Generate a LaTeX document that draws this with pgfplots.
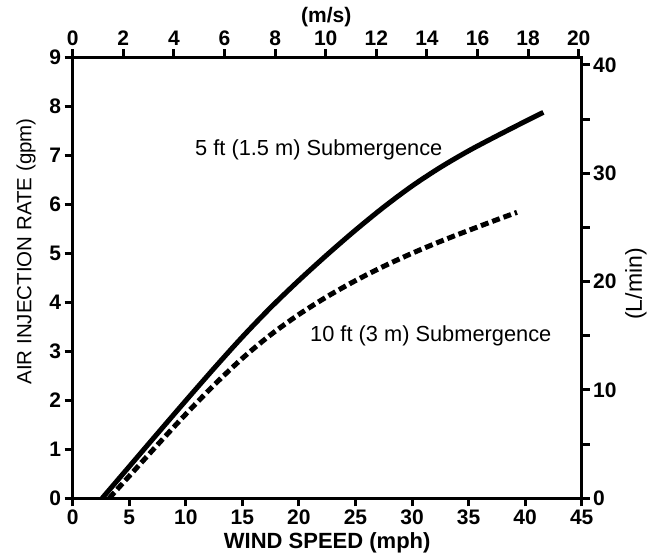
\documentclass[border=0pt]{standalone}
\usepackage{fontspec}
\setmainfont{Liberation Sans}
\usepackage{pgfplots}
\pgfplotsset{compat=1.18}
\begin{document}
\begin{tikzpicture}
\pgfplotsset{
  mybase/.style={
    scale only axis, width=509bp, height=441bp,
    axis line style={line width=3bp, black},
    tick style={line width=3bp, black},
    major tick length=8bp,
    tick align=outside,
    minor tick num=0,
    /pgf/number format/assume math mode=true,
    ticklabel style={font=\fontsize{21bp}{25bp}\selectfont\bfseries},
    label style={inner sep=0pt},
  }
}
\begin{axis}[mybase, name=main,
  xmin=0, xmax=45, ymin=0, ymax=9,
  xtick={0,5,...,45}, ytick={0,1,...,9},
  xtick pos=bottom, ytick pos=left,
  xlabel={WIND SPEED (mph)},
  ylabel={AIR INJECTION RATE (gpm)},
  xlabel style={font=\fontsize{22bp}{26bp}\selectfont\bfseries, at={(axis description cs:0.5,0)}, anchor=base, yshift=-49.7bp},
  ylabel style={font=\fontsize{20.5bp}{25bp}\selectfont, at={(axis description cs:0,0.56)}, anchor=center, yshift=46.7bp},
  clip=false,
]
\addplot[line width=5bp, black, smooth] coordinates {
(2.6,0) (5,0.648) (7.5,1.323) (10,1.993) (12.5,2.653) (15,3.293) (17.5,3.893)
(20,4.448) (22.5,4.973) (25,5.473) (27.5,5.943) (30,6.373) (32.5,6.753)
(35,7.091) (37.5,7.396) (40,7.691) (41.61,7.876)
};
\addplot[line width=5bp, black, smooth, dash pattern=on 8bp off 4bp] coordinates {
(3.22,0) (5,0.454) (7.5,1.092) (10,1.717) (12.5,2.312) (15,2.857) (17.5,3.337)
(20,3.752) (22.5,4.117) (25,4.442) (27.5,4.735) (30,5.0) (32.5,5.242)
(35,5.467) (37.5,5.685) (39.28,5.836)
};
\node[anchor=base west, inner sep=0pt, font=\fontsize{21.8bp}{26bp}\selectfont] at (axis cs:10.81,7.0) {5 ft (1.5 m) Submergence};
\node[anchor=base west, inner sep=0pt, font=\fontsize{21.8bp}{26bp}\selectfont] at (axis cs:20.98,3.19) {10 ft (3 m) Submergence};
\end{axis}
\begin{axis}[mybase,
  xmin=0, xmax=20.117, ymin=0, ymax=40.7,
  xtick={0,2,...,20}, ytick={0,5,...,40},
  yticklabels={0,,10,,20,,30,,40},
  xtick pos=top, ytick pos=right,
  xticklabel pos=top, yticklabel pos=right,
  xlabel={(m/s)}, ylabel={(L/min)},
  xlabel style={font=\fontsize{21bp}{25bp}\selectfont\bfseries, at={(axis description cs:0.498,1)}, anchor=base, yshift=35bp},
  ylabel style={font=\fontsize{23bp}{27bp}\selectfont, at={(axis description cs:1,0.486)}, anchor=center, yshift=-54.3bp},
]
\end{axis}
\pgfresetboundingbox
\path ([xshift=-72.7bp,yshift=-55.7bp]main.south west) rectangle ([xshift=75.3bp,yshift=57.3bp]main.north east);
\end{tikzpicture}
\end{document}
